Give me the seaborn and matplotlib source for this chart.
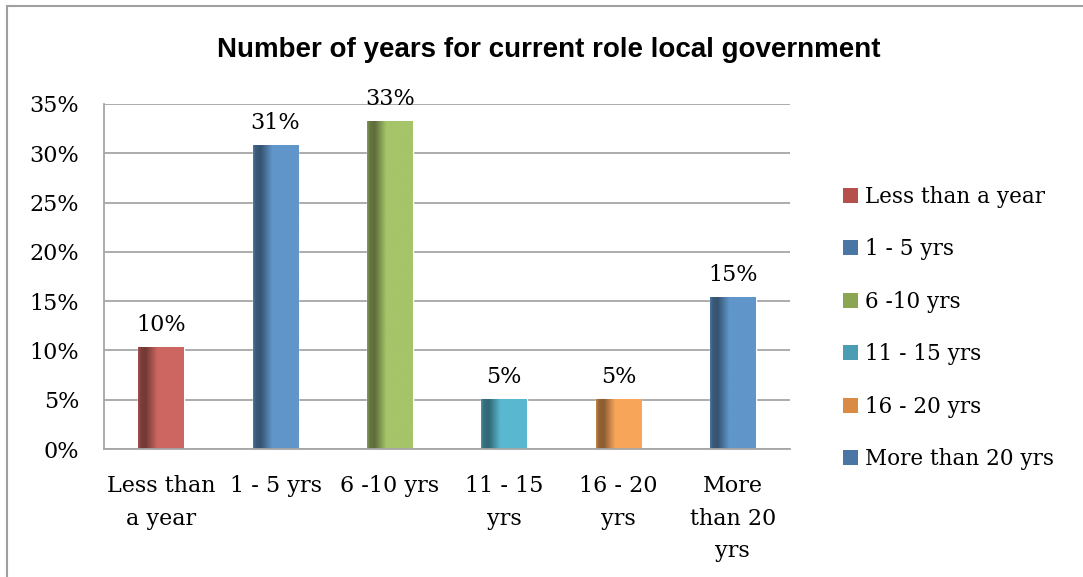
import numpy as np
import pandas as pd
import seaborn as sns
import matplotlib
matplotlib.use("Agg")
import matplotlib.pyplot as plt
from matplotlib.patches import Rectangle, Patch
from matplotlib.colors import to_rgb

# Share of respondents by years in current local-government role (%)
categories = ["Less than a year", "1 - 5 yrs", "6 -10 yrs", "11 - 15 yrs",
              "16 - 20 yrs", "More than 20 yrs"]
tick_labels = ["Less than\na year", "1 - 5 yrs", "6 -10 yrs", "11 - 15\nyrs",
               "16 - 20\nyrs", "More\nthan 20\nyrs"]
shares = [10.3, 30.8, 33.3, 5.1, 5.1, 15.4]
bar_colors = ["#CD6661", "#6096CA", "#A6C46A", "#59B8D0", "#F8A65A", "#6096CA"]
legend_colors = ["#B5504C", "#4A76A6", "#8CA552", "#4A9DB3", "#D98A45", "#4A76A6"]

sns.set_theme(style="white")
plt.rcParams["font.family"] = ["DejaVu Serif"]
plt.rcParams["text.color"] = "black"
plt.rcParams["xtick.labelcolor"] = "black"
plt.rcParams["ytick.labelcolor"] = "black"

W, H = 1083, 577
fig = plt.figure(figsize=(W / 100, H / 100), dpi=100)
ax = fig.add_axes([104 / W, 1 - 449 / H, (790 - 104) / W, (449 - 104) / H])

df = pd.DataFrame({"cat": categories, "share": shares})
sns.barplot(data=df, x="cat", y="share", hue="cat", palette=bar_colors,
            dodge=False, width=0.4, legend=False, ax=ax, saturation=1)

grid_c = "#A6A6A6"
ax.set_ylim(0, 35)
ax.set_xlim(-0.5, len(categories) - 0.5)
ax.set_yticks(np.arange(0, 36, 5))
ax.yaxis.set_major_formatter(matplotlib.ticker.FuncFormatter(lambda v, p: f"{v:.0f}%"))
ax.yaxis.grid(True, color=grid_c, linewidth=1.3)
ax.set_axisbelow(True)
for s in ["top", "right"]:
    ax.spines[s].set_visible(False)
for s in ["left", "bottom"]:
    ax.spines[s].set_color(grid_c)
    ax.spines[s].set_linewidth(1.3)

# x ticks at category boundaries, labels at centres
ax.set_xticks(np.arange(-0.5, len(categories), 1.0))
ax.set_xticklabels([])
ax.set_xticks(np.arange(len(categories)), minor=True)
ax.set_xticklabels(tick_labels, minor=True, fontsize=16, linespacing=1.62)
ax.tick_params(axis="x", which="major", length=6, width=1.3, color=grid_c, direction="out")
ax.tick_params(axis="x", which="minor", length=0, pad=19)
ax.tick_params(axis="y", length=6, width=1.3, color=grid_c, direction="out",
               labelsize=16, pad=12)
ax.set_xlabel("")
ax.set_ylabel("")

# horizontal shading: dark band near the left edge of each bar
xs = np.linspace(0, 1, 200)
shade = np.interp(xs, [0, 0.06, 0.17, 0.42, 1.0], [0.8, 0.6, 0.56, 1.0, 1.0])
for patch in ax.patches:
    x0, y0 = patch.get_x(), patch.get_y()
    w, h = patch.get_width(), patch.get_height()
    if h <= 0:
        continue
    base = np.array(to_rgb(patch.get_facecolor()))
    img = np.clip(base[None, None, :] * shade[None, :, None], 0, 1)
    im = ax.imshow(img, extent=[x0, x0 + w, y0, y0 + h], aspect="auto",
                   interpolation="bilinear", zorder=patch.get_zorder() + 0.1)
    im.set_clip_path(patch)
ax.set_xlim(-0.5, len(categories) - 0.5)
ax.set_ylim(0, 35)

for cont in ax.containers:
    ax.bar_label(cont, labels=[f"{v:.0f}%" for v in cont.datavalues],
                 padding=8, fontsize=16, color="black")

handles = [Patch(facecolor=c, edgecolor="none") for c in legend_colors]
fig.legend(handles, categories, loc="center left",
           bbox_to_anchor=(834 / W, 1 - 328 / H), frameon=False, fontsize=15.5,
           handlelength=0.7, handleheight=0.7, handletextpad=0.35,
           labelspacing=1.42, borderaxespad=0, labelcolor="black")

fig.text(0.507, 1 - 50 / H, "Number of years for current role local government",
         ha="center", va="center", fontsize=20, fontweight="bold", color="black",
         family=["Liberation Sans", "DejaVu Sans"])

fig.patches.append(Rectangle((7 / W, -0.05), 1.05, 1 - 6 / H + 0.05,
                             transform=fig.transFigure, fill=False,
                             edgecolor="#A0A0A0", linewidth=1.5))

fig.savefig("out.png", dpi=100)
